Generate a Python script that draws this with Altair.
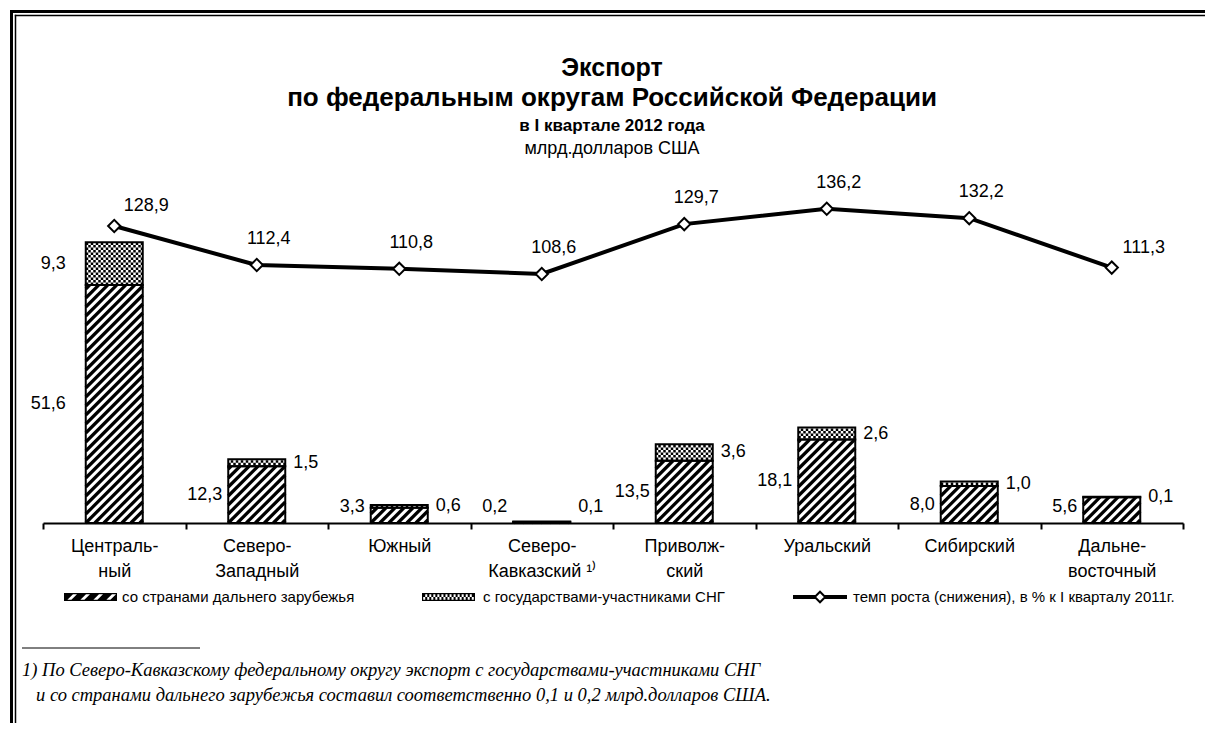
import json
import math
import altair as alt
import pandas as pd

# ---------------- data ----------------
districts = ["Централь-|ный", "Северо-|Западный", "Южный", "Северо-|Кавказский ¹⁾",
             "Приволж-|ский", "Уральский", "Сибирский", "Дальне-|восточный"]
far_abroad = [51.6, 12.3, 3.3, 0.2, 13.5, 18.1, 8.0, 5.6]
cis_members = [9.3, 1.5, 0.6, 0.1, 3.6, 2.6, 1.0, 0.1]
growth_pct = [128.9, 112.4, 110.8, 108.6, 129.7, 136.2, 132.2, 111.3]
legend_names = ["со странами дальнего зарубежья",
                "с государствами-участниками СНГ",
                "темп роста (снижения), в % к I кварталу 2011г."]
title_lines = ["Экспорт", "по федеральным округам Российской Федерации",
               "в I квартале 2012 года", "млрд.долларов США"]
footnote_lines = ["1) По Северо-Кавказскому федеральному округу экспорт с государствами-участниками СНГ",
                  "и со странами дальнего зарубежья составил соответственно 0,1 и 0,2 млрд.долларов США."]

# ---------------- geometry / style ----------------
SANS = "Liberation Sans, Arial, sans-serif"
SERIF = "Liberation Serif, Times New Roman, serif"
W, H = 1140, 332
Y_MAX = 72.0
G_DOMAIN = [3.3, 143.7]
HALF = 0.2
n = len(districts)
SX = W / n
SY = H / Y_MAX
OX, OY = 43, 191  # page position of plot origin


def fmt(v):
    return f"{v:.1f}".replace(".", ",")


bars = pd.DataFrame({
    "idx": list(range(n)),
    "left": [i - HALF for i in range(n)],
    "right": [i + HALF for i in range(n)],
    "far": far_abroad,
    "cis": cis_members,
})
bars["z"] = 0.0
bars["total"] = bars["far"] + bars["cis"]
bars["far_lbl"] = [fmt(v) for v in far_abroad]
bars["cis_lbl"] = [fmt(v) for v in cis_members]
bars["far_y"] = (bars["far"] / 2).clip(lower=3.5)
bars["cis_y"] = (bars["far"] + bars["cis"] / 2).clip(lower=3.5)

line_df = pd.DataFrame({"idx": list(range(n)), "growth": growth_pct,
                        "lbl": [fmt(v) for v in growth_pct]})

# hatch segments ("/" at 45 degrees in pixel space) inside far-abroad bars
PERIOD = 9.0
bw = 2 * HALF * SX
hatch_rows = []
for i, f in enumerate(far_abroad):
    h = f * SY
    for k in range(math.floor(-h / PERIOD), math.ceil(bw / PERIOD) + 1):
        c = k * PERIOD
        u0, u1 = max(0.0, c), min(bw, h + c)
        if u1 - u0 > 0.3:
            hatch_rows.append({"x": i - HALF + u0 / SX, "x2": i - HALF + u1 / SX,
                               "y": (u0 - c) / SY, "y2": (u1 - c) / SY})
hatch_df = pd.DataFrame(hatch_rows)

# checker rows inside CIS segments
CELL = 2.5
chk_rows = []
for i, (f, c) in enumerate(zip(far_abroad, cis_members)):
    v0, hc = f * SY, c * SY
    nrow = int(hc // CELL)
    lead = (hc - nrow * CELL) / 2
    for k in range(nrow):
        v = v0 + lead + CELL * (k + 0.5)
        chk_rows.append({"x": i - HALF, "x2": i + HALF, "y": v / SY, "par": k % 2})
chk_df = pd.DataFrame(chk_rows)

# ---------------- scales / axis ----------------
xs = alt.Scale(domain=[-0.5, n - 0.5], nice=False, zero=False)
ys = alt.Scale(domain=[0, Y_MAX], nice=False)
gs = alt.Scale(domain=G_DOMAIN, nice=False, zero=False)
label_arrays = json.dumps([d.split("|") for d in districts], ensure_ascii=False)
xaxis = alt.Axis(
    values=[i - 0.5 for i in range(n + 1)] + list(range(n)),
    labelExpr=f"datum.value % 1 == 0 ? {label_arrays}[round(datum.value)] : ''",
    tickOpacity={"condition": {"test": "datum.value % 1 == 0", "value": 0}, "value": 1},
    title=None, grid=False, domainColor="black", domainWidth=2, tickColor="black",
    tickWidth=2, tickSize=6, labelFont=SANS, labelFontSize=18, labelColor="black",
    labelLineHeight=25, labelPadding=8, labelOverlap=False, labelFlush=False, labelAngle=0,
)


def X(field):
    return alt.X(field, scale=xs, axis=xaxis)


hatch = alt.Chart(hatch_df).mark_rule(color="black", strokeWidth=3.2, strokeCap="butt").encode(
    x=X("x:Q"), x2="x2:Q", y=alt.Y("y:Q", scale=ys, axis=None), y2="y2:Q")

chk_layers = []
for par in (0, 1):
    chk_layers.append(
        alt.Chart(chk_df).transform_filter(f"datum.par == {par}").mark_rule(
            color="black", strokeWidth=CELL, strokeCap="butt",
            strokeDash=[CELL, CELL], strokeDashOffset=CELL * par).encode(
            x=X("x:Q"), x2="x2:Q", y=alt.Y("y:Q", scale=ys, axis=None)))

far_box = alt.Chart(bars).mark_rect(fill="transparent", stroke="black", strokeWidth=2).encode(
    x=X("left:Q"), x2="right:Q", y=alt.Y("z:Q", scale=ys, axis=None), y2="far:Q")
cis_box = alt.Chart(bars).mark_rect(fill="transparent", stroke="black", strokeWidth=2).encode(
    x=X("left:Q"), x2="right:Q", y=alt.Y("far:Q", scale=ys, axis=None), y2="total:Q")

TXT = dict(font=SANS, fontSize=18, color="black", baseline="middle")
far_lbl = alt.Chart(bars).transform_filter("datum.idx > 0").mark_text(align="right", dx=-6, **TXT).encode(
    x=X("left:Q"), y=alt.Y("far_y:Q", scale=ys, axis=None), text="far_lbl:N")
cis_lbl = alt.Chart(bars).transform_filter("datum.idx > 0").mark_text(align="left", dx=8, **TXT).encode(
    x=X("right:Q"), y=alt.Y("cis_y:Q", scale=ys, axis=None), text="cis_lbl:N")
c_far_lbl = alt.Chart(bars).transform_filter("datum.idx == 0").mark_text(align="right", dx=-20, **TXT).encode(
    x=X("left:Q"), y=alt.Y("far_y:Q", scale=ys, axis=None), text="far_lbl:N")
c_cis_lbl = alt.Chart(bars).transform_filter("datum.idx == 0").mark_text(align="right", dx=-20, **TXT).encode(
    x=X("left:Q"), y=alt.Y("cis_y:Q", scale=ys, axis=None), text="cis_lbl:N")

bar_layer = alt.layer(hatch, *chk_layers, far_box, cis_box, far_lbl, cis_lbl, c_far_lbl, c_cis_lbl)

gline = alt.Chart(line_df).mark_line(color="black", strokeWidth=4).encode(
    x=X("idx:Q"), y=alt.Y("growth:Q", scale=gs, axis=None))
gpts = alt.Chart(line_df).mark_point(shape="diamond", filled=True, fill="white", stroke="black",
                                     strokeWidth=2, size=150, opacity=1).encode(
    x=X("idx:Q"), y=alt.Y("growth:Q", scale=gs, axis=None))
glbl_a = alt.Chart(line_df).transform_filter("datum.idx > 0 && datum.idx < 7").mark_text(
    align="center", dx=12, dy=-26, **TXT).encode(
    x=X("idx:Q"), y=alt.Y("growth:Q", scale=gs, axis=None), text="lbl:N")
glbl_b = alt.Chart(line_df).transform_filter("datum.idx == 0 || datum.idx == 7").mark_text(
    align="center", dx=32, dy=-20, **TXT).encode(
    x=X("idx:Q"), y=alt.Y("growth:Q", scale=gs, axis=None), text="lbl:N")
line_layer = alt.layer(gline, gpts, glbl_a, glbl_b)

# ---------------- annotations (page coordinates) ----------------
one = pd.DataFrame({"k": [0]})


def txt(text, x, y, size, weight="normal", align="center", font=SANS, style="normal", baseline="alphabetic"):
    return alt.Chart(pd.DataFrame({"t": [text]})).mark_text(
        align=align, baseline=baseline, fontSize=size, fontWeight=weight, font=font,
        fontStyle=style, color="black").encode(
        x=alt.value(x - OX), y=alt.value(y - OY), text="t:N")


def hrule(x0, x1, y, w):
    return alt.Chart(one).mark_rule(color="black", strokeWidth=w, strokeCap="butt").encode(
        x=alt.value(x0 - OX), x2=alt.value(x1 - OX), y=alt.value(y - OY))


def vrule(x, y0, y1, w):
    return alt.Chart(one).mark_rule(color="black", strokeWidth=w, strokeCap="butt").encode(
        x=alt.value(x - OX), y=alt.value(y0 - OY), y2=alt.value(y1 - OY))


def path_of(pts, r):
    return "M" + "L".join(f"{x / r:.4f},{y / r:.4f}" for x, y in pts) + "Z"


def rect_pts(x0, y0, x1, y1, ccw=False):
    p = [(x0, y0), (x1, y0), (x1, y1), (x0, y1)]
    return p[::-1] if ccw else p


def clip_x(poly, lo, hi):
    def clip(pl, inside, xv):
        out = []
        for j in range(len(pl)):
            cur, prev = pl[j], pl[j - 1]
            def inter(p, q):
                return (xv, p[1] + (q[1] - p[1]) * (xv - p[0]) / (q[0] - p[0]))
            if inside(cur):
                if not inside(prev):
                    out.append(inter(prev, cur))
                out.append(cur)
            elif inside(prev):
                out.append(inter(prev, cur))
        return out
    pl = clip(poly, lambda p: p[0] >= lo, lo)
    if pl:
        pl = clip(pl, lambda p: p[0] <= hi, hi)
    return pl


SW_W, SW_H = 53.0, 8.0
R = SW_W / 2
hw, hh = SW_W / 2, SW_H / 2
frame = path_of(rect_pts(-hw, -hh, hw, hh), R) + path_of(rect_pts(-hw + 1.2, -hh + 1.2, hw - 1.2, hh - 1.2, True), R)
ih = SW_H - 2.4
hatch_path = frame
a = -hw - ih
while a < hw:
    t = 9.0
    poly = [(a, hh - 1.2), (a + t, hh - 1.2), (a + t + ih, -hh + 1.2), (a + ih, -hh + 1.2)]
    cp = clip_x(poly, -hw + 1.2, hw - 1.2)
    if len(cp) >= 3:
        hatch_path += path_of(cp, R)
    a += 13.0
chk_path = frame
cols, rws = 25, 2
cw, chh = (SW_W - 2.4) / cols, (SW_H - 2.4) / rws
for ci in range(cols):
    for ri in range(rws):
        if (ci + ri) % 2 == 0:
            x0 = -hw + 1.2 + ci * cw
            y0 = -hh + 1.2 + ri * chh
            chk_path += path_of(rect_pts(x0, y0, x0 + cw, y0 + chh), R)


def swatch(path, cx, cy):
    return alt.Chart(one).mark_point(shape=path, size=SW_W ** 2, filled=True, fill="black",
                                     strokeOpacity=0, opacity=1).encode(
        x=alt.value(cx - OX), y=alt.value(cy - OY))


LEG_Y = 597
legend = [
    swatch(hatch_path, 90.5, LEG_Y),
    txt(legend_names[0], 122, LEG_Y, 15, align="left", baseline="middle"),
    swatch(chk_path, 448.5, LEG_Y),
    txt(legend_names[1], 483, LEG_Y, 15, align="left", baseline="middle"),
    hrule(793, 847, LEG_Y, 4),
    alt.Chart(one).mark_point(shape="diamond", filled=True, fill="white", stroke="black",
                              strokeWidth=2, size=110, opacity=1).encode(
        x=alt.value(820 - OX), y=alt.value(LEG_Y - OY)),
    txt(legend_names[2], 853, LEG_Y, 15, align="left", baseline="middle"),
]

titles = [
    txt(title_lines[0], 612, 76, 25, weight="bold"),
    txt(title_lines[1], 612, 106, 26, weight="bold"),
    txt(title_lines[2], 612, 131, 17, weight="bold"),
    txt(title_lines[3], 612, 154, 18),
]

frame_lines = [
    hrule(10, 1230, 11.5, 3), vrule(11.5, 10, 760, 3),
    hrule(14.8, 1230, 15.5, 1.5), vrule(15.5, 14.8, 760, 1.5),
]

footnote = [
    hrule(22, 200, 648, 1),
    txt(footnote_lines[0], 22, 676, 18.5, align="left", font=SERIF, style="italic"),
    txt(footnote_lines[1], 36, 701, 18.5, align="left", font=SERIF, style="italic"),
]

chart = alt.layer(bar_layer, line_layer, *titles, *legend, *frame_lines, *footnote).resolve_scale(
    y="independent"
).properties(
    width=W, height=H,
    autosize=alt.AutoSizeParams(type="none"),
    padding={"left": 35, "top": 183, "right": 22, "bottom": 200},
    background="white",
).configure_view(stroke="transparent")

chart.save("out.html", embed_options={"renderer": "svg", "actions": False})
